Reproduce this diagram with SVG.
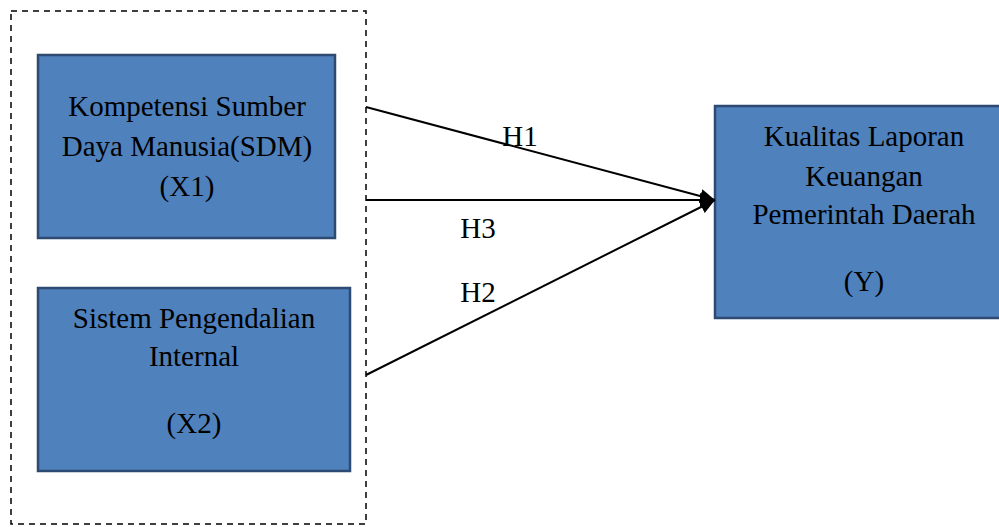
<svg xmlns="http://www.w3.org/2000/svg" width="999" height="527" viewBox="0 0 999 527">
<defs>
<style>
.box{fill:#4f81bd;stroke:#2c4a72;stroke-width:2.5}
.t{font-family:"Liberation Serif","Times New Roman",serif;font-size:29px;fill:#000;text-anchor:middle}
.c{stroke:#000;stroke-width:2;fill:none}
</style>
<marker id="ah" markerWidth="15" markerHeight="14" refX="15" refY="7" orient="auto" markerUnits="userSpaceOnUse" viewBox="0 0 15 14">
<path d="M0,0 L15,7 L0,14 Z" fill="#000"/>
</marker>
</defs>
<rect x="11" y="11" width="355" height="513" fill="none" stroke="#000" stroke-width="1.5" stroke-dasharray="6,5"/>
<g id="x1">
<rect class="box" x="38" y="55" width="297" height="183"/>
<text class="t" x="187" y="116">Kompetensi Sumber</text>
<text class="t" x="187" y="156">Daya Manusia(SDM)</text>
<text class="t" x="187" y="196">(X1)</text>
</g>
<g id="x2">
<rect class="box" x="38" y="288" width="312" height="183"/>
<text class="t" x="194" y="328">Sistem Pengendalian</text>
<text class="t" x="194" y="366">Internal</text>
<text class="t" x="194" y="433">(X2)</text>
</g>
<g id="y">
<rect class="box" x="715" y="106" width="290" height="212"/>
<text class="t" x="864" y="146">Kualitas Laporan</text>
<text class="t" x="864" y="186">Keuangan</text>
<text class="t" x="864" y="224">Pemerintah Daerah</text>
<text class="t" x="864" y="291">(Y)</text>
</g>
<g id="connectors">
<line class="c" x1="366" y1="107" x2="715" y2="200" marker-end="url(#ah)"/>
<line class="c" x1="366" y1="200" x2="715" y2="200" marker-end="url(#ah)"/>
<line class="c" x1="366" y1="375" x2="715" y2="200" marker-end="url(#ah)"/>
<text class="t" x="520" y="146">H1</text>
<text class="t" x="478" y="238">H3</text>
<text class="t" x="478" y="302">H2</text>
</g>
</svg>
